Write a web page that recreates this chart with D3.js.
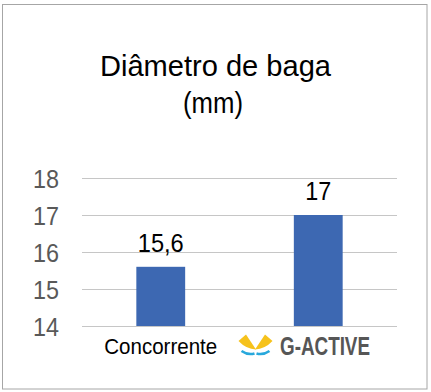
<!DOCTYPE html>
<html>
<head>
<meta charset="utf-8">
<script src="https://cdn.jsdelivr.net/npm/d3@7"></script>
<style>
html,body{margin:0;padding:0;background:#fff;}
svg{display:block;}
</style>
</head>
<body>
<script>
const categories = ["Concorrente", "G-ACTIVE"];
const values = [15.6, 17];
const valueLabels = ["15,6", "17"];
const tickValues = [14, 15, 16, 17, 18];
const titleLines = ["Diâmetro de baga", "(mm)"];

const W = 431, H = 392;
const FONT = "'Liberation Sans Narrow', 'Arial Narrow', 'Liberation Sans', Arial, sans-serif";
const svg = d3.select("body").append("svg").attr("width", W).attr("height", H);

svg.append("rect").attr("x", 2.5).attr("y", 4.5).attr("width", 424.5).attr("height", 384.5)
  .attr("fill", "#fff").attr("stroke", "#a6a6a6").attr("stroke-width", 1);

const x = d3.scaleBand().domain(categories).range([82, 397]).paddingInner(0.69).paddingOuter(0.345);
const y = d3.scaleLinear().domain([14, 18]).range([326, 178]);

// title
svg.append("text").attr("x", 215.5).attr("y", 76).attr("text-anchor", "middle")
  .attr("font-family", FONT).attr("font-size", 29.5).attr("fill", "#000")
  .attr("textLength", 231).attr("lengthAdjust", "spacingAndGlyphs").text(titleLines[0]);
svg.append("text").attr("x", 213).attr("y", 113).attr("text-anchor", "middle")
  .attr("font-family", FONT).attr("font-size", 29.5).attr("fill", "#000")
  .attr("textLength", 60).attr("lengthAdjust", "spacingAndGlyphs").text(titleLines[1]);

// gridlines + y tick labels
const yAxis = d3.axisLeft(y).tickValues(tickValues).tickSize(-(397 - 82)).tickPadding(23).tickFormat(d3.format("d"));
const gy = svg.append("g").attr("transform", "translate(82,0)").call(yAxis);
gy.select(".domain").remove();
gy.selectAll(".tick line").attr("stroke", "#c6c6c6").attr("stroke-width", 1);
gy.selectAll(".tick text").attr("font-family", FONT).attr("font-size", 26.5).attr("fill", "#595959")
  .attr("dy", "0.36em").attr("textLength", 26).attr("lengthAdjust", "spacingAndGlyphs");

// bars
svg.selectAll("rect.bar").data(values).enter().append("rect").attr("class", "bar")
  .attr("x", (d, i) => x(categories[i])).attr("width", x.bandwidth())
  .attr("y", d => y(d)).attr("height", d => y(14) - y(d)).attr("fill", "#3d68b2");

// value labels
svg.selectAll("text.vl").data(values).enter().append("text").attr("class", "vl")
  .attr("x", (d, i) => x(categories[i]) + x.bandwidth() / 2).attr("y", d => y(d) - 15)
  .attr("text-anchor", "middle").attr("font-family", FONT).attr("font-size", 25.5).attr("fill", "#000")
  .attr("textLength", (d, i) => i === 0 ? 46 : 26).attr("lengthAdjust", "spacingAndGlyphs")
  .text((d, i) => valueLabels[i]);

// category label
svg.append("text").attr("x", x(categories[0]) + x.bandwidth() / 2).attr("y", 354)
  .attr("text-anchor", "middle").attr("font-family", FONT).attr("font-size", 22.5).attr("fill", "#000")
  .attr("textLength", 113).attr("lengthAdjust", "spacingAndGlyphs")
  .text(categories[0]);

// G-ACTIVE logo
const logo = svg.append("g");
logo.append("text").attr("x", 280).attr("y", 354.5).attr("font-family", FONT).attr("font-weight", "bold")
  .attr("font-size", 25).attr("fill", "#565656")
  .attr("textLength", 90).attr("lengthAdjust", "spacingAndGlyphs").text(categories[1]);
// wings
logo.append("path").attr("d", "M238.5,341 L246,334.5 L256,349.5 Q246,349 238.5,341 Z").attr("fill", "#f6c21c");
logo.append("path").attr("d", "M272.5,341 L265,334.5 L255,349.5 Q265,349 272.5,341 Z").attr("fill", "#f6c21c");
logo.append("path").attr("d", "M241.5,351 Q248,355.5 254.5,353.5").attr("stroke", "#28a8dc").attr("stroke-width", 2.5).attr("fill", "none");
logo.append("path").attr("d", "M269.5,351 Q263,355.5 256.5,353.5").attr("stroke", "#28a8dc").attr("stroke-width", 2.5).attr("fill", "none");
</script>
</body>
</html>
